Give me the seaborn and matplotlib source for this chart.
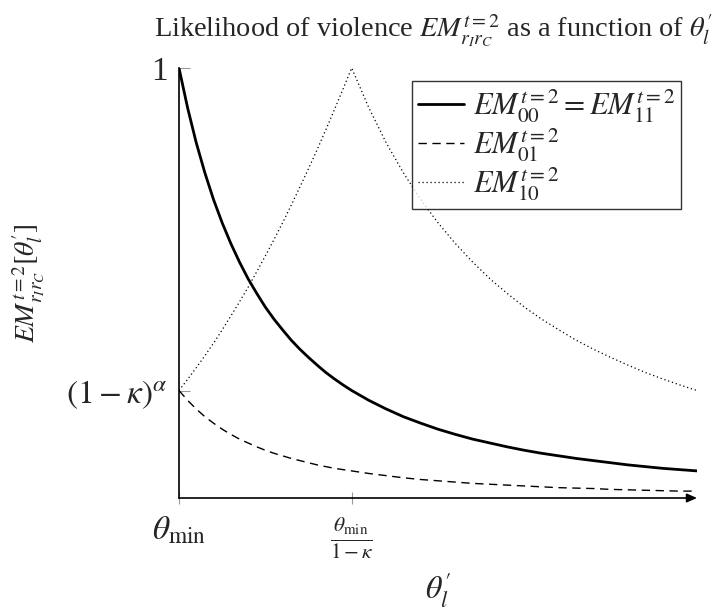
import matplotlib
matplotlib.use("Agg")
import matplotlib.pyplot as plt
import seaborn as sns
import pandas as pd

theta = [1.0, 1.05, 1.1, 1.15, 1.2, 1.25, 1.3, 1.35, 1.4, 1.45, 1.5,
         1.55, 1.6, 1.65, 1.7, 1.75, 1.8, 1.85, 1.9, 1.95, 2.0,
         2.1, 2.2, 2.3, 2.4, 2.5, 2.6, 2.7, 2.8, 2.9, 3.0,
         3.1, 3.2, 3.3, 3.4, 3.5, 3.6, 3.7, 3.8, 3.9, 4.0]
em_00_11 = [1.000, 0.907, 0.826, 0.756, 0.694, 0.640, 0.592, 0.549, 0.510, 0.476, 0.444,
            0.416, 0.391, 0.367, 0.346, 0.327, 0.309, 0.292, 0.277, 0.263, 0.250,
            0.227, 0.207, 0.189, 0.174, 0.160, 0.148, 0.137, 0.128, 0.119, 0.111,
            0.104, 0.098, 0.092, 0.087, 0.082, 0.077, 0.073, 0.069, 0.066, 0.063]
em_01 = [0.250, 0.227, 0.207, 0.189, 0.174, 0.160, 0.148, 0.137, 0.128, 0.119, 0.111,
         0.104, 0.098, 0.092, 0.087, 0.082, 0.077, 0.073, 0.069, 0.066, 0.063,
         0.057, 0.052, 0.047, 0.043, 0.040, 0.037, 0.034, 0.032, 0.030, 0.028,
         0.026, 0.024, 0.023, 0.022, 0.020, 0.019, 0.018, 0.017, 0.016, 0.016]
em_10 = [0.250, 0.276, 0.303, 0.331, 0.360, 0.391, 0.423, 0.456, 0.490, 0.526, 0.563,
         0.601, 0.640, 0.681, 0.723, 0.766, 0.810, 0.856, 0.903, 0.951, 1.000,
         0.907, 0.826, 0.756, 0.694, 0.640, 0.592, 0.549, 0.510, 0.476, 0.444,
         0.416, 0.391, 0.367, 0.346, 0.327, 0.309, 0.292, 0.277, 0.263, 0.250]

series_labels = [r"$EM^{t=2}_{00} = EM^{t=2}_{11}$", r"$EM^{t=2}_{01}$", r"$EM^{t=2}_{10}$"]
x_tick_values = [1.0, 2.0]
x_tick_labels = [r"$\theta_{\min}$", r"$\frac{\theta_{\min}}{1-\kappa}$"]
y_tick_values = [0.25, 1.0]
y_tick_labels = [r"$(1-\kappa)^{\alpha}$", "1"]

sns.set_theme(style="white")
plt.rcParams["font.family"] = ["Liberation Serif", "DejaVu Serif"]
plt.rcParams["mathtext.fontset"] = "stix"

fig = plt.figure(figsize=(7.26, 6.08), dpi=100)
ax = fig.add_axes([179 / 726, (608 - 498) / 608, (697 - 179) / 726, 430 / 608])

df = pd.DataFrame({"theta": theta * 3,
                   "value": em_00_11 + em_01 + em_10,
                   "series": [series_labels[0]] * len(theta)
                             + [series_labels[1]] * len(theta)
                             + [series_labels[2]] * len(theta)})

styles = {series_labels[0]: dict(lw=2.0, ls="-"),
          series_labels[1]: dict(lw=1.0, ls=(0, (6, 4))),
          series_labels[2]: dict(lw=0.9, ls=(0, (1, 2.2)))}
for lab in series_labels:
    sub = df[df["series"] == lab]
    sns.lineplot(data=sub, x="theta", y="value", ax=ax, color="black",
                 label=lab, **styles[lab])

ax.set_xlim(1.0, 4.0)
ax.set_ylim(0.0, 1.0)
for s in ["top", "right", "bottom"]:
    ax.spines[s].set_visible(False)
ax.spines["left"].set_color("black")
ax.spines["left"].set_linewidth(1.2)
ax.annotate("", xy=(1.0, 0.0), xytext=(0.0, 0.0), xycoords="axes fraction",
            arrowprops=dict(arrowstyle="-|>,head_length=0.5,head_width=0.22",
                            color="black", lw=1.2, shrinkA=0, shrinkB=0))

ax.set_xticks(x_tick_values)
ax.set_xticklabels(x_tick_labels)
ax.set_yticks(y_tick_values)
ax.set_yticklabels(y_tick_labels)
ax.tick_params(axis="x", direction="inout", length=8, width=0.8, color="#999999",
               labelsize=24, pad=8, bottom=True)
ax.tick_params(axis="y", direction="in", length=8, width=0.8, color="#999999",
               labelsize=24, pad=8, left=True)
for t in ax.get_xticklabels():
    t.set_verticalalignment("top")
ax.get_xticklabels()[1].set_fontsize(22)

ax.set_xlabel(r"$\theta_l^{\prime}$", fontsize=23, labelpad=6)
ax.set_ylabel(r"$EM^{t=2}_{r_I r_C}[\theta_l^{\prime}]$", fontsize=20, labelpad=14)
ax.set_title(r"Likelihood of violence $EM^{t=2}_{r_I r_C}$ as a function of $\theta_l^{\prime}$",
             fontsize=20.4, pad=22, x=0.49)

leg = ax.legend(loc="upper right", bbox_to_anchor=(0.97, 0.97), fontsize=22,
                frameon=True, fancybox=False, handlelength=1.5, handletextpad=0.3,
                borderpad=0.2, labelspacing=0.05, borderaxespad=0)
leg.get_frame().set_edgecolor("black")
leg.get_frame().set_linewidth(1.0)

fig.savefig("out.png", dpi=100)
